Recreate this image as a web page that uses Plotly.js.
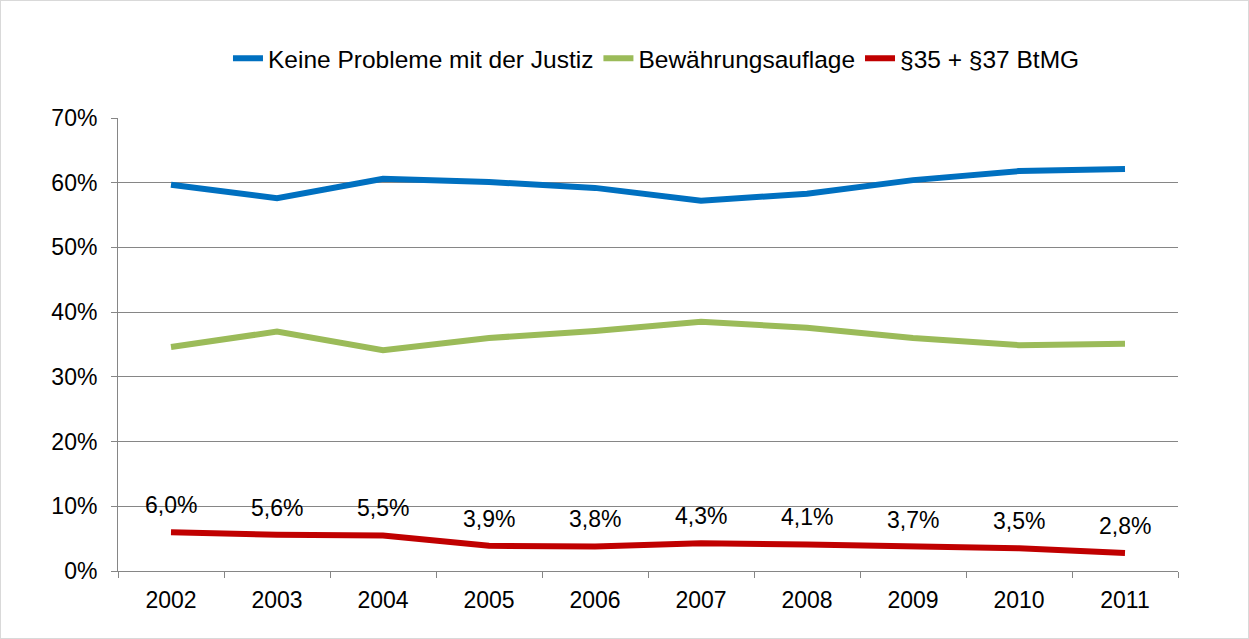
<!DOCTYPE html>
<html><head><meta charset="utf-8">
<script src="https://cdn.plot.ly/plotly-3.0.1.min.js"></script>
<style>
html,body{margin:0;padding:0;background:#fff;}
#chart{width:1247px;height:637px;border:1px solid #d9d9d9;}
</style></head>
<body><div id="chart"></div>
<script>
const years = ['2002','2003','2004','2005','2006','2007','2008','2009','2010','2011'];
const keineProbleme = [0.597,0.576,0.606,0.601,0.592,0.572,0.583,0.604,0.618,0.621];
const bewaehrung = [0.346,0.370,0.341,0.360,0.371,0.385,0.376,0.360,0.349,0.351];
const btmg = [0.060,0.056,0.055,0.039,0.038,0.043,0.041,0.037,0.035,0.028];
const btmgLabels = ['6,0%','5,6%','5,5%','3,9%','3,8%','4,3%','4,1%','3,7%','3,5%','2,8%'];

const font = {family:'Liberation Sans, Arial, sans-serif', size:23, color:'#000'};
const legendFont = {family:'Liberation Sans, Arial, sans-serif', size:24.5, color:'#000'};
const traces = [
 {x:years,y:keineProbleme,name:'Keine Probleme mit der Justiz',mode:'lines',line:{color:'#0070c0',width:6}},
 {x:years,y:bewaehrung,name:'Bewährungsauflage',mode:'lines',line:{color:'#9bbb59',width:6}},
 {x:years,y:btmg,name:'§35 + §37 BtMG',mode:'lines',line:{color:'#c00000',width:6}}
];
const annotations = years.map((yr,i)=>({x:i,y:btmg[i],xref:'x',yref:'y',text:btmgLabels[i],showarrow:false,
  xanchor:'center',yanchor:'middle',yshift:27,font:font}));
const layout = {
 width:1247,height:637,
 margin:{l:117,r:70,t:117,b:67},
 paper_bgcolor:'#fff',plot_bgcolor:'#fff',
 font:font,
 showlegend:true,
 annotations:annotations,
 legend:{orientation:'h',x:0.508,xanchor:'center',y:1.132,yanchor:'middle',font:legendFont,traceorder:'normal'},
 xaxis:{type:'category',range:[-0.5,9.5],tickson:'boundaries',ticks:'outside',ticklen:6,tickcolor:'#868686',
  showline:true,linecolor:'#868686',linewidth:1,showgrid:false,tickfont:font,zeroline:false,fixedrange:true,
  ticklabelstandoff:8},
 yaxis:{range:[0,0.7],dtick:0.1,tickformat:'.0%',ticks:'outside',ticklen:6,tickcolor:'#868686',
  showline:true,linecolor:'#868686',linewidth:1,showgrid:true,gridcolor:'#868686',gridwidth:1,
  tickfont:font,zeroline:false,fixedrange:true,ticklabelstandoff:9}
};
Plotly.newPlot('chart',traces,layout,{displayModeBar:false,staticPlot:true});
</script></body></html>
